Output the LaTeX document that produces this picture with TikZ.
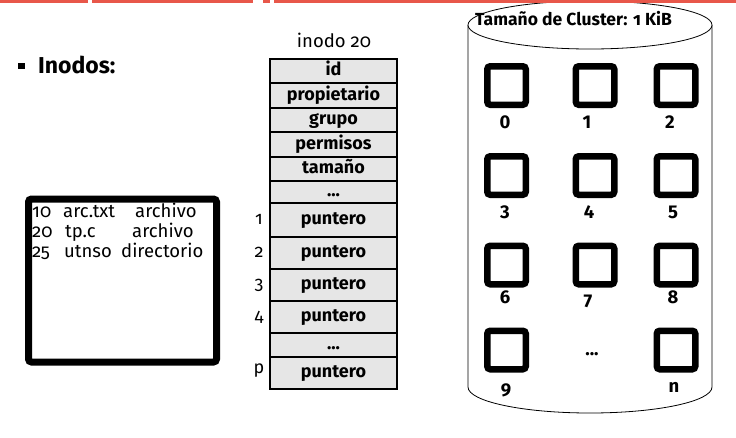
\documentclass[tikz,border=0pt]{standalone}
\usepackage{fontspec}
\setmainfont{Fira Sans}[Numbers=OldStyle]
\newfontfamily\liningfont{Fira Sans}
\definecolor{barred}{HTML}{E8574A}
\definecolor{cellgray}{HTML}{E6E6E6}
\tikzset{
  cell/.style={draw=black, line width=1.3pt, fill=cellgray, minimum width=127pt,
    inner sep=0pt, text height=13pt, text depth=4pt,
    font=\fontsize{18}{20}\selectfont\bfseries},
  plaintext/.style={font=\fontsize{18.5}{20}\selectfont, inner sep=0pt},
  idx/.style={font=\fontsize{18}{20}\selectfont, inner sep=0pt, anchor=base},
  clusterbox/.style={draw=black, line width=6.5pt, rounded corners=3pt,
    minimum size=38.5pt, inner sep=0pt},
  clabel/.style={font=\liningfont\fontsize{18.5}{20}\selectfont\bfseries,
    inner sep=0pt, anchor=base},
  dirtext/.style={font=\fontsize{18.5}{20}\selectfont, inner sep=0pt, anchor=base west},
}
\begin{document}
\begin{tikzpicture}[x=1pt,y=-1pt]
\useasboundingbox (0,0) rectangle (736,437);
\fill[white] (0,0) rectangle (736,437);

% bullet
\node[fill=black, minimum size=6.5pt, inner sep=0pt] (bullet) at (21.5,66) {};
\node[font=\fontsize{23}{26}\selectfont\bfseries, inner sep=0pt, anchor=base west]
  (inodos) at (38,73) {Inodos:};

% directory box
\node[draw=black, line width=7pt, rounded corners=3pt, minimum width=188pt,
  minimum height=163pt, inner sep=0pt] (dir) at (122.5,280.5) {};
\node[dirtext] (d10) at (32,217) {10};
\node[dirtext] (darc) at (63,217) {arc.txt};
\node[dirtext] (darch1) at (135,217) {archivo};
\node[dirtext] (d20) at (32,237) {20};
\node[dirtext] (dtp) at (65,237) {tp.c};
\node[dirtext] (darch2) at (132,237) {archivo};
\node[dirtext] (d25) at (32,257) {25};
\node[dirtext] (dutn) at (64,257) {utnso};
\node[dirtext] (ddir) at (121,257) {directorio};

% inode table
\node[plaintext, anchor=base] (inodotitle) at (334,47) {inodo 20};
\node[cell, minimum height=24pt] (cid) at (333.5,71) {id};
\node[cell, minimum height=25pt] (cprop) at (333.5,95.5) {propietario};
\node[cell, minimum height=24pt] (cgrupo) at (333.5,120) {grupo};
\node[cell, minimum height=25pt] (cperm) at (333.5,144.5) {permisos};
\node[cell, minimum height=24pt] (ctam) at (333.5,169) {tamaño};
\node[cell, minimum height=22pt] (cdots1) at (333.5,192) {...};
\node[cell, minimum height=34pt] (cp1) at (333.5,220) {puntero};
\node[cell, minimum height=32pt] (cp2) at (333.5,253) {puntero};
\node[cell, minimum height=32pt] (cp3) at (333.5,285) {puntero};
\node[cell, minimum height=32pt] (cp4) at (333.5,317) {puntero};
\node[cell, minimum height=24pt] (cdots2) at (333.5,345) {...};
\node[cell, minimum height=32pt] (cpp) at (333.5,373) {puntero};

\node[idx] (i1) at (259,224) {1};
\node[idx] (i2) at (259,257) {2};
\node[idx] (i3) at (259,289) {3};
\node[idx] (i4) at (259,321) {4};
\node[idx] (ip) at (259,373) {p};

% cylinder
\draw[line width=0.8pt] (468,25) -- (468,387)
  arc[start angle=180, end angle=0, x radius=122, y radius=26] -- (712,25);
\draw[line width=0.8pt, fill=white] (590,25) ellipse [x radius=122, y radius=24];
\node[font=\fontsize{17.5}{20}\selectfont\bfseries, inner sep=0pt, anchor=base]
  (ctitle) at (573.5,25) {Tamaño de Cluster: 1 KiB};

% clusters
\node[clusterbox] (k0) at (506.5,85.5) {};
\node[clusterbox] (k1) at (595,85.5) {};
\node[clusterbox] (k2) at (676,85.5) {};
\node[clusterbox] (k3) at (506.5,175.5) {};
\node[clusterbox] (k4) at (595,175.5) {};
\node[clusterbox] (k5) at (676,175.5) {};
\node[clusterbox] (k6) at (506.5,265) {};
\node[clusterbox] (k7) at (595,265) {};
\node[clusterbox] (k8) at (676,265) {};
\node[clusterbox] (k9) at (506.5,350) {};
\node[clusterbox] (kn) at (676,350) {};

\node[clabel] (l0) at (505,128) {0};
\node[clabel] (l1) at (587,128) {1};
\node[clabel] (l2) at (670,128) {2};
\node[clabel] (l3) at (505,218) {3};
\node[clabel] (l4) at (589,218) {4};
\node[clabel] (l5) at (673,218) {5};
\node[clabel] (l6) at (505,303) {6};
\node[clabel] (l7) at (588,307) {7};
\node[clabel] (l8) at (673,303) {8};
\node[clabel] (l9) at (506,396) {9};
\node[clabel] (ln) at (674,392) {n};
\node[clabel] (ldots) at (592,355) {...};

% top red bar
\fill[barred] (0,0) rectangle (736,2.5);
\fill[white] (88,0) rectangle (92,2.5);
\fill[white] (253,0) rectangle (263,2.5);
\fill[white] (270,0) rectangle (274,2.5);
\end{tikzpicture}
\end{document}
